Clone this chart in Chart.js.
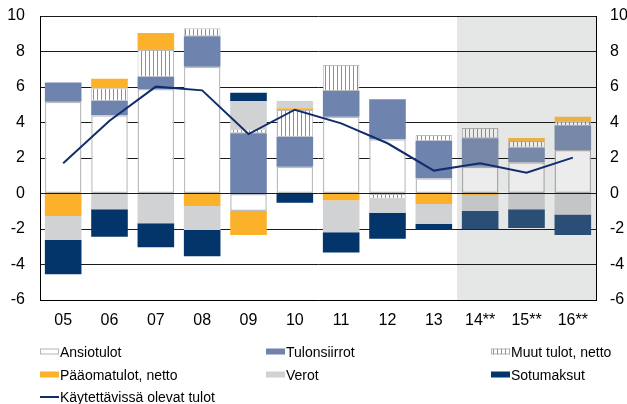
<!DOCTYPE html>
<html><head><meta charset="utf-8">
<script src="https://cdn.jsdelivr.net/npm/chart.js@4/dist/chart.umd.min.js"></script>
<style>html,body{margin:0;padding:0;background:#fff}#wrap{width:627px;height:404px;position:relative}canvas{display:block}</style>
</head><body><div id="wrap"><canvas id="c" width="627" height="404"></canvas></div>
<script>
const categories = ['05','06','07','08','09','10','11','12','13','14**','15**','16**'];
const ansiotulot   = [5.17, 4.41, 5.89, 7.14, -0.99, 1.51, 4.33, 3.05, 0.86, 1.51, 1.76, 2.45];
const tulonsiirrot = [1.09, 0.82, 0.69, 1.72, 3.39, 1.69, 1.44, 2.26, 2.11, 1.60, 0.82, 1.35];
const muutTulot    = [0.00, 0.70, 1.50, 0.45, 0.23, 1.50, 1.47, -0.29, 0.33, 0.58, 0.38, 0.27];
const paaomatulot  = [-1.27, 0.54, 0.96, -0.70, -1.35, 0.10, -0.38, 0.00, -0.59, -0.08, 0.17, 0.26];
const verot        = [-1.35, -0.89, -1.68, -1.36, 1.59, 0.41, -1.81, -0.79, -1.11, -0.91, -0.89, -1.19];
const sotumaksut   = [-1.93, -1.54, -1.35, -1.48, 0.47, -0.52, -1.14, -1.47, -0.36, -1.03, -1.05, -1.15];
const kaytettavissa = [1.70, 4.10, 6.02, 5.81, 3.35, 4.72, 3.95, 2.83, 1.29, 1.70, 1.17, 2.02];
const yTicks = [-6, -4, -2, 0, 2, 4, 6, 8, 10];
const forecastFrom = 9;

const FONT = "'Liberation Sans', Arial, sans-serif";
const canvas = document.getElementById('c');
const ctx = canvas.getContext('2d');

function hatch(bg, line) {
  const c = document.createElement('canvas');
  c.width = 4; c.height = 4;
  const g = c.getContext('2d');
  g.fillStyle = bg; g.fillRect(0, 0, 4, 4);
  g.fillStyle = line; g.fillRect(1, 0, 1, 4);
  return ctx.createPattern(c, 'repeat');
}
const perBar = (normal, fc) => categories.map((_, i) => i >= forecastFrom ? fc : normal);

const COL = {
  ans: ['#ffffff', '#ececec'],
  tul: ['#6e84ae', '#7888a8'],
  muut: [hatch('#ffffff', '#8e8e8e'), hatch('#ececec', '#8a8a8a')],
  paa: ['#fbb12a', '#e9b045'],
  ver: ['#d1d2d4', '#c4c5c7'],
  sot: ['#03356b', '#2a4e76'],
  line: '#112d6c'
};
const EDGE = ['#bdbdbd', '#a9a9a9'];

const shadePlugin = {
  id: 'shade',
  beforeDraw(chart) {
    const { ctx, chartArea: a, scales: { x } } = chart;
    const x0 = Math.round(x.getPixelForValue(forecastFrom - 0.5));
    ctx.save();
    ctx.fillStyle = '#e5e6e6';
    ctx.fillRect(x0, a.top, a.right - x0, a.bottom - a.top);
    ctx.restore();
  }
};

const legendLayout = [
  { ds: 0, col: 0, row: 0 }, { ds: 1, col: 1, row: 0 }, { ds: 2, col: 2, row: 0 },
  { ds: 3, col: 0, row: 1 }, { ds: 4, col: 1, row: 1 }, { ds: 5, col: 2, row: 1 },
  { ds: 6, col: 0, row: 2 }
];
const legendPlugin = {
  id: 'customLegend',
  afterDraw(chart) {
    const c = chart.ctx;
    const colX = [40, 266, 491];
    const rowY = [351.5, 374.5, 397];
    c.save();
    c.font = '14px ' + FONT;
    c.textBaseline = 'alphabetic';
    c.fillStyle = '#000';
    legendLayout.forEach(it => {
      const d = chart.data.datasets[it.ds];
      const x = colX[it.col], y = rowY[it.row];
      if (d.type === 'line') {
        c.strokeStyle = COL.line; c.lineWidth = 2;
        c.beginPath(); c.moveTo(x, y); c.lineTo(x + 19, y); c.stroke();
      } else {
        const bg = Array.isArray(d.backgroundColor) ? d.backgroundColor[0] : d.backgroundColor;
        c.fillStyle = bg;
        c.fillRect(x, y - 3, 19, 6);
        if (it.ds === 0 || it.ds === 2) {
          c.strokeStyle = '#b5b5b5'; c.lineWidth = 1;
          c.strokeRect(x + 0.5, y - 2.5, 18, 5);
        }
      }
      c.fillStyle = '#000';
      c.fillText(d.label, x + 20, y + 5);
    });
    c.restore();
  }
};

const barBase = { type: 'bar', yAxisID: 'y', order: 1, borderSkipped: false };
new Chart(ctx, {
  data: {
    labels: categories,
    datasets: [
      { ...barBase, label: 'Ansiotulot', data: ansiotulot, backgroundColor: perBar(...COL.ans), borderColor: perBar(...EDGE), borderWidth: 1.5 },
      { ...barBase, label: 'Tulonsiirrot', data: tulonsiirrot, backgroundColor: perBar(...COL.tul), borderWidth: 0 },
      { ...barBase, label: 'Muut tulot, netto', data: muutTulot, backgroundColor: perBar(...COL.muut), borderColor: perBar(...EDGE), borderWidth: 1 },
      { ...barBase, label: 'Pääomatulot, netto', data: paaomatulot, backgroundColor: perBar(...COL.paa), borderWidth: 0 },
      { ...barBase, label: 'Verot', data: verot, backgroundColor: perBar(...COL.ver), borderWidth: 0 },
      { ...barBase, label: 'Sotumaksut', data: sotumaksut, backgroundColor: perBar(...COL.sot), borderWidth: 0 },
      { type: 'line', label: 'Käytettävissä olevat tulot', data: kaytettavissa, yAxisID: 'y2', order: 0,
        borderColor: COL.line, borderWidth: 2, pointRadius: 0, tension: 0, fill: false }
    ]
  },
  options: {
    responsive: false,
    animation: false,
    devicePixelRatio: 1,
    layout: { padding: { top: 16, left: 0, right: 0, bottom: 0 } },
    plugins: { legend: { display: false }, tooltip: { enabled: false } },
    datasets: { bar: { barPercentage: 0.79, categoryPercentage: 1 } },
    scales: {
      x: {
        stacked: true,
        grid: { display: false, drawTicks: false },
        border: { display: true, color: '#000', width: 1 },
        ticks: { color: '#000', font: { family: FONT, size: 16 }, padding: 11, maxRotation: 0, autoSkip: false },
        afterFit(s) { s.height = 104; s.paddingLeft = 0; s.paddingRight = 0; }
      },
      y: {
        position: 'left', stacked: true, min: -6, max: 10,
        afterBuildTicks(s) { s.ticks = yTicks.map(v => ({ value: v })); },
        grid: { color: '#1a1a1a', lineWidth: 1, drawTicks: false },
        border: { display: true, color: '#000', width: 1 },
        ticks: { color: '#000', font: { family: FONT, size: 16 }, padding: 15 },
        afterFit(s) { s.width = 40; s.paddingTop = 0; s.paddingBottom = 0; }
      },
      y2: {
        position: 'right', stacked: false, min: -6, max: 10,
        afterBuildTicks(s) { s.ticks = yTicks.map(v => ({ value: v })); },
        grid: { display: false, drawTicks: false },
        border: { display: true, color: '#000', width: 1 },
        ticks: { color: '#000', font: { family: FONT, size: 16 }, padding: 14 },
        afterFit(s) { s.width = 31; s.paddingTop = 0; s.paddingBottom = 0; }
      }
    }
  },
  plugins: [shadePlugin, legendPlugin]
});
</script>
</body></html>
